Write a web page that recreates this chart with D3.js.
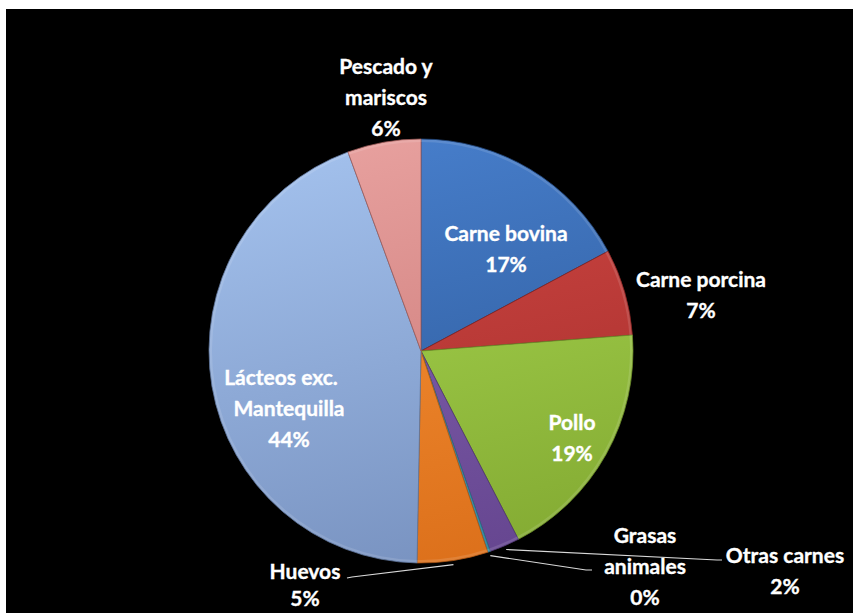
<!DOCTYPE html>
<html>
<head>
<meta charset="utf-8">
<script src="https://cdn.jsdelivr.net/npm/d3@7"></script>
<style>
  html, body { margin: 0; padding: 0; background: #ffffff; }
  svg { display: block; }
  text { font-family: Lato, "Open Sans", sans-serif; font-weight: 700; fill: #ffffff;
         stroke: #ffffff; stroke-width: 0.35px; }
</style>
</head>
<body>
<svg id="chart" width="853" height="613"></svg>
<script>
// Share of protein consumption by food group
const categories = ["Carne bovina", "Carne porcina", "Pollo", "Otras carnes",
                    "Grasas animales", "Huevos", "Lácteos exc. Mantequilla", "Pescado y mariscos"];
const values = [17.2, 6.6, 18.6, 2.3, 0.2, 5.4, 44.1, 5.6];
// How each category name wraps in its label
const labelLines = [["Carne bovina"], ["Carne porcina"], ["Pollo"], ["Otras carnes"],
                    ["Grasas", "animales"], ["Huevos"], ["Lácteos exc.", "Mantequilla"],
                    ["Pescado y", "mariscos"]];

// Fill colours, light (top) and dark (bottom) stop for each slice
const colorTop    = ["#477ecb", "#d04844", "#a9d851", "#8767b6", "#4dafc9", "#f99538", "#a2c0ec", "#e7a09e"];
const colorBottom = ["#2b5796", "#a52d2b", "#84ab33", "#664690", "#368aa2", "#dc701b", "#7892c0", "#c77472"];

// Layout
const W = 853, H = 613;
const cx = 421, cy = 351, R = 212;
const lineGap = 31;
const fontSize = 21;
// label block anchor: centre x, centre y of first line; leader: elbow point for outside labels
const labelPos = [
  {x: 506, y: 233},
  {x: 701, y: 279},
  {x: 572, y: 422},
  {x: 785, y: 555, leader: [[722, 560], [717, 560]]},
  {x: 645, y: 535, leader: [[592, 570], [586, 570]]},
  {x: 305, y: 571, gap: 27, leader: [[347, 578], [352, 577]]},
  {x: 289, y: 377, lineDx: [-8, 0, 0]},
  {x: 386, y: 66}
];

const svg = d3.select("#chart");

// black plot area with a thin white margin on top/left
svg.append("rect").attr("x", 6).attr("y", 9).attr("width", W - 6).attr("height", H - 9).attr("fill", "#000000");

const defs = svg.append("defs");
categories.forEach((c, i) => {
  // coordinates are in the pie group's space (origin at the pie centre)
  const g = defs.append("linearGradient")
    .attr("id", "grad" + i)
    .attr("gradientUnits", "userSpaceOnUse")
    .attr("x1", -R * 0.25).attr("y1", -R)
    .attr("x2", R * 0.25).attr("y2", R);
  g.append("stop").attr("offset", "0%").attr("stop-color", colorTop[i]);
  g.append("stop").attr("offset", "100%").attr("stop-color", colorBottom[i]);
});

const pie = d3.pie().sort(null).value(d => d)(values);
const arc = d3.arc().innerRadius(0).outerRadius(R);
const bevel = d3.arc().innerRadius(R - 3).outerRadius(R - 0.5);

const gPie = svg.append("g").attr("transform", `translate(${cx},${cy})`);

gPie.selectAll("path.slice")
  .data(pie)
  .join("path")
  .attr("class", "slice")
  .attr("d", arc)
  .attr("fill", (d, i) => `url(#grad${i})`)
  .attr("stroke", (d, i) => d3.color(colorBottom[i]).darker(0.6))
  .attr("stroke-width", 0.8)
  .attr("stroke-linejoin", "round");

// soft light rim along the outer edge of each slice
gPie.selectAll("path.rim")
  .data(pie)
  .join("path")
  .attr("class", "rim")
  .attr("d", bevel)
  .attr("fill", "#ffffff")
  .attr("opacity", 0.12);

// leader lines for the small outside-labelled slices
const leaderArc = d3.arc().innerRadius(R + 4).outerRadius(R + 4);
pie.forEach((d, i) => {
  const lp = labelPos[i];
  if (!lp.leader) return;
  const [px, py] = leaderArc.centroid(d);
  const pts = [[cx + px, cy + py], lp.leader[1], lp.leader[0]];
  svg.append("path")
    .attr("d", d3.line()(pts))
    .attr("fill", "none")
    .attr("stroke", "#d9d9d9")
    .attr("stroke-width", 1.2);
});

// labels: category name(s) then rounded percentage
pie.forEach((d, i) => {
  const lp = labelPos[i];
  const gap = lp.gap || lineGap;
  const lines = labelLines[i].concat([Math.round(d.data) + "%"]);
  const t = svg.append("text")
    .attr("text-anchor", "middle")
    .attr("font-size", fontSize);
  lines.forEach((ln, k) => {
    t.append("tspan")
      .attr("x", lp.x + (lp.lineDx ? lp.lineDx[k] : 0))
      .attr("y", lp.y + k * gap)
      .attr("dy", "0.36em")
      .text(ln);
  });
});
</script>
</body>
</html>
